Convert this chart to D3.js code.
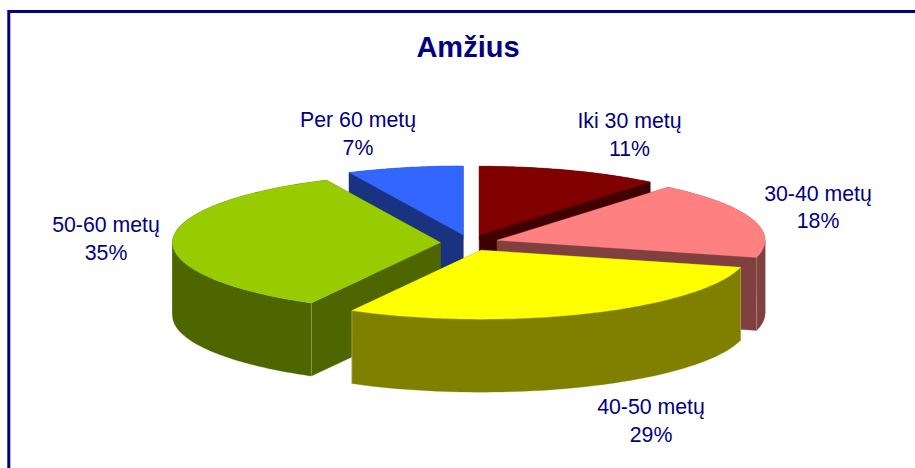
<!DOCTYPE html>
<html><head><meta charset="utf-8">
<script src="https://cdn.jsdelivr.net/npm/d3@7"></script>
<style>html,body{margin:0;padding:0;background:#fff;overflow:hidden}svg{display:block}text{font-family:"Liberation Sans",Arial,sans-serif;fill:#000080}</style>
</head><body><svg id="c" width="915" height="468"></svg>
<script>
const chartTitle = "Amžius";
const categories = ["Iki 30 metų","30-40 metų","40-50 metų","50-60 metų","Per 60 metų"];
const percents = [11,18,29,35,7];
const topColors = ["#800000","#ff8080","#ffff00","#99cc00","#3366ff"];

const W=915,H=468;
const cx=469.5,cy=242.8,rx=268,ry=69,depth=73,explodeX=29,explodeY=8;
const labelAnchors=[[629.5,128],[818,200.5],[651,414],[106,232],[358,127]];
const paintOrder=[4,0,1,3,2];

const svg=d3.select("#c");
svg.append("rect").attr("width",W).attr("height",H).attr("fill","#fff");
// frame: runs off the right and bottom of the picture
svg.append("path").attr("d",d3.line()([[8.8,H+5],[8.8,11.5],[W+5,11.5]]))
  .attr("fill","none").attr("stroke","#000080").attr("stroke-width",3);

svg.append("text").attr("x",468).attr("y",57).attr("text-anchor","middle")
  .attr("font-size",29).attr("font-weight","bold").text(chartTitle);

const arcs=d3.pie().sort(null)(percents);
const pt=(c,t)=>[c[0]+rx*Math.sin(t),c[1]-ry*Math.cos(t)];
const down=(p)=>[p[0],p[1]+depth];
const line=d3.line();
const darker=c=>{const k=d3.rgb(c);return d3.rgb(k.r/2,k.g/2,k.b/2).formatHex();};
const sweep=(t0,t1,n)=>d3.range(0,n+1).map(k=>t0+(t1-t0)*k/n);

paintOrder.forEach(i=>{
  const a=arcs[i],mid=(a.startAngle+a.endAngle)/2;
  const c=[cx+explodeX*Math.sin(mid),cy-explodeY*Math.cos(mid)];
  const rim=sweep(a.startAngle,a.endAngle,120).map(t=>pt(c,t));
  const g=svg.append("g");
  const side=darker(topColors[i]);
  // radial walls
  [rim[0],rim[120]].forEach(p=>{
    g.append("path").attr("d",line([c,p,down(p),down(c)])+"Z").attr("fill",side).attr("stroke",side).attr("stroke-width",.3);
  });
  // outer wall: split where the rim turns back in x, so each band is a simple polygon
  const stops=[a.startAngle,...[Math.PI/2,3*Math.PI/2].filter(t=>t>a.startAngle&&t<a.endAngle),a.endAngle];
  d3.pairs(stops).forEach(([t0,t1])=>{
    const band=sweep(t0,t1,60).map(t=>pt(c,t));
    g.append("path").attr("d",line(band.concat(band.map(down).reverse()))+"Z")
      .attr("fill",side).attr("stroke",side).attr("stroke-width",.3);
  });
  // faint highlight on front corners
  [a.startAngle,a.endAngle].forEach(t=>{
    if(Math.cos(t)<0){const p=pt(c,t);
      g.append("path").attr("d",line([p,down(p)])).attr("stroke","#fff").attr("stroke-opacity",.25).attr("stroke-width",1).attr("fill","none");}
  });
  // top face
  g.append("path").attr("d",line([c].concat(rim))+"Z").attr("fill",topColors[i]).attr("stroke",topColors[i]).attr("stroke-width",.3);
});

categories.forEach((name,i)=>{
  const [x,y]=labelAnchors[i];
  const t=svg.append("text").attr("x",x).attr("y",y).attr("text-anchor","middle").attr("font-size",21.3);
  t.append("tspan").attr("x",x).text(name);
  t.append("tspan").attr("x",x).attr("dy",27.5).text(percents[i]+"%");
});
</script></body></html>
